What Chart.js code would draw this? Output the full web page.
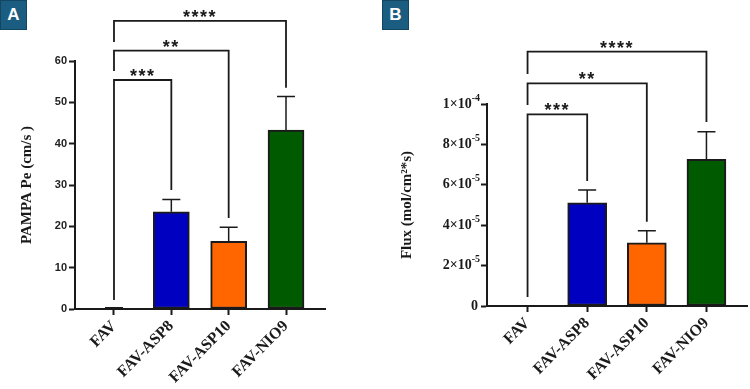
<!DOCTYPE html>
<html>
<head>
<meta charset="utf-8">
<script src="https://cdn.jsdelivr.net/npm/chart.js@4.4.1/dist/chart.umd.min.js"></script>
<style>
  html, body { margin: 0; padding: 0; background: #fff; }
  #wrap { position: relative; width: 750px; height: 389px; overflow: hidden; }
  .panel { position: absolute; top: 0; width: 375px; height: 389px; }
  .badge {
    position: absolute; top: 0; width: 27px; height: 30px;
    background: #1b5d80; border: 1px solid #134662; box-sizing: border-box;
    color: #fff; font: bold 17px 'Liberation Sans', sans-serif;
    text-align: center; line-height: 28px;
  }
</style>
</head>
<body>
<div id="wrap">
  <div class="panel" style="left:0"><canvas id="pampaChart" width="375" height="389"></canvas></div>
  <div class="panel" style="left:375px"><canvas id="fluxChart" width="375" height="389"></canvas></div>
  <div class="badge" style="left:0">A</div>
  <div class="badge" style="left:382px">B</div>
</div>
<script>
// groups and colours
const categories = ['FAV', 'FAV-ASP8', 'FAV-ASP10', 'FAV-NIO9']
const barColors = ['#ffffff', '#0000c0', '#ff6600', '#005a00']

// panel A: PAMPA Pe (cm/s), mean and SD
const pampaMeans = [0, 23.5, 16.4, 43.3]
const pampaSD = [0.3, 3.0, 3.4, 8.1]
// [from, to, bracket level, left leg end, right leg end, label]
const pampaBrackets = [
  [0, 1, 55.4, 2.2, 28.8, '***'],
  [0, 2, 62.5, 57.6, 22.0, '**'],
  [0, 3, 69.7, 64.6, 53.5, '****'],
]

// panel B: Flux (mol/cm2*s), mean and SD
const fluxMeans = [0, 5.11e-5, 3.13e-5, 7.26e-5]
const fluxSD = [0, 0.63e-5, 0.6e-5, 1.37e-5]
const fluxBrackets = [
  [0, 1, 9.49e-5, 0.45e-5, 6.19e-5, '***'],
  [0, 2, 11.02e-5, 9.95e-5, 4.17e-5, '**'],
  [0, 3, 12.59e-5, 11.49e-5, 9.11e-5, '****'],
]

const INK = '#1a1a1a'

// error bars, significance brackets and 1x10^n tick labels
const extras = {
  id: 'extras',
  afterDatasetsDraw(chart, args, opts) {
    const { ctx } = chart
    const x = chart.scales.x
    const y = chart.scales.y
    ctx.save()
    ctx.strokeStyle = INK
    ctx.lineCap = 'butt'

    // error bars (upper only)
    ctx.lineWidth = 1.5
    opts.means.forEach((m, i) => {
      const px = x.getPixelForValue(i)
      const yBar = y.getPixelForValue(m)
      const yTop = y.getPixelForValue(m + opts.sd[i])
      ctx.beginPath()
      ctx.moveTo(px, yBar)
      ctx.lineTo(px, yTop)
      ctx.moveTo(px - 9, yTop)
      ctx.lineTo(px + 9, yTop)
      ctx.stroke()
    })

    // brackets
    ctx.lineWidth = 1.8
    ctx.fillStyle = INK
    ctx.font = 'bold 18px "Liberation Sans", sans-serif'
    ctx.letterSpacing = '1.5px'
    ctx.textAlign = 'center'
    ctx.textBaseline = 'alphabetic'
    opts.brackets.forEach(([a, b, level, leftEnd, rightEnd, label]) => {
      const xa = x.getPixelForValue(a)
      const xb = x.getPixelForValue(b)
      const yl = y.getPixelForValue(level)
      ctx.beginPath()
      ctx.moveTo(xa, y.getPixelForValue(leftEnd))
      ctx.lineTo(xa, yl)
      ctx.lineTo(xb, yl)
      ctx.lineTo(xb, y.getPixelForValue(rightEnd))
      ctx.stroke()
      ctx.fillText(label, (xa + xb) / 2, yl + 2)
    })
    ctx.letterSpacing = '0px'

    // scientific tick labels
    if (opts.sciTicks) {
      const right = chart.chartArea.left - 7
      y.ticks.forEach((t) => {
        const py = y.getPixelForValue(t.value)
        ctx.textAlign = 'left'
        ctx.textBaseline = 'middle'
        if (Math.abs(t.value) < 1e-12) {
          ctx.font = 'bold 14px "Liberation Serif", serif'
          const w = ctx.measureText('0').width
          ctx.fillText('0', right - 2 - w, py)
          return
        }
        const exp = Math.floor(Math.log10(t.value) + 1e-9)
        const mant = Math.round(t.value / Math.pow(10, exp))
        const main = mant + '\u00d710'
        const sup = String(exp)
        ctx.font = 'bold 10px "Liberation Serif", serif'
        const sw = ctx.measureText(sup).width
        ctx.font = 'bold 14px "Liberation Serif", serif'
        const mw = ctx.measureText(main).width
        ctx.fillText(main, right - sw - mw, py)
        ctx.font = 'bold 10px "Liberation Serif", serif'
        ctx.fillText(sup, right - sw, py - 6)
      })
    }
    ctx.restore()
  },
}

function makePanel(canvasId, cfg) {
  const canvas = document.getElementById(canvasId)
  return new Chart(canvas, {
    type: 'bar',
    data: {
      datasets: [
        {
          data: cfg.means.map((v, i) => ({ x: i, y: v })),
          backgroundColor: barColors,
          borderColor: INK,
          borderWidth: 2,
          borderSkipped: false,
          barThickness: cfg.barWidth,
        },
      ],
    },
    options: {
      responsive: false,
      animation: false,
      devicePixelRatio: 1,
      layout: { padding: cfg.padding },
      plugins: {
        legend: { display: false },
        tooltip: { enabled: false },
        extras: {
          means: cfg.means,
          sd: cfg.sd,
          brackets: cfg.brackets,
          sciTicks: cfg.sciTicks,
        },
      },
      scales: {
        x: {
          type: 'linear',
          offset: false,
          min: -0.68,
          max: 3.68,
          afterBuildTicks: (scale) => {
            scale.ticks = categories.map((c, i) => ({ value: i }))
          },
          afterFit: (scale) => {
            scale.height = cfg.xHeight
          },
          ticks: {
            autoSkip: false,
            maxRotation: 45,
            minRotation: 45,
            padding: 2,
            color: INK,
            font: { family: '"Liberation Serif", serif', size: 16, weight: 'bold' },
            callback: (v, i) => categories[i],
          },
          grid: {
            offset: false,
            drawOnChartArea: false,
            tickLength: 6,
            tickWidth: 2,
            tickColor: INK,
          },
          border: { color: INK, width: 2 },
        },
        y: {
          min: 0,
          max: cfg.yMax,
          afterFit: (scale) => {
            scale.width = cfg.yWidth
          },
          ticks: {
            stepSize: cfg.yStep,
            padding: 2,
            color: cfg.sciTicks ? 'rgba(0,0,0,0)' : '#222',
            font: { family: '"Liberation Sans", sans-serif', size: 11, weight: 'bold' },
          },
          grid: {
            drawOnChartArea: false,
            tickLength: 6,
            tickWidth: 2,
            tickColor: INK,
          },
          border: { color: INK, width: 2 },
          title: {
            display: true,
            text: cfg.yTitle,
            color: INK,
            padding: { top: cfg.titlePad, bottom: 0 },
            font: { family: '"Liberation Serif", serif', size: 15, weight: 'bold' },
          },
        },
      },
    },
    plugins: [extras],
  })
}

makePanel('pampaChart', {
  means: pampaMeans,
  sd: pampaSD,
  brackets: pampaBrackets,
  sciTicks: false,
  barWidth: 36,
  yMax: 60,
  yStep: 10,
  yTitle: 'PAMPA Pe (cm/s )',
  yWidth: 75,
  xHeight: 80,
  titlePad: 18,
  padding: { left: 0, top: 61, right: 50, bottom: 0 },
})

makePanel('fluxChart', {
  means: fluxMeans,
  sd: fluxSD,
  brackets: fluxBrackets,
  sciTicks: true,
  barWidth: 39,
  yMax: 1e-4,
  yStep: 2e-5,
  yTitle: 'Flux (mol/cm\u00b2*s)',
  yWidth: 112,
  xHeight: 83,
  titlePad: 23,
  padding: { left: 0, top: 104, right: 3, bottom: 0 },
})
</script>
</body>
</html>
